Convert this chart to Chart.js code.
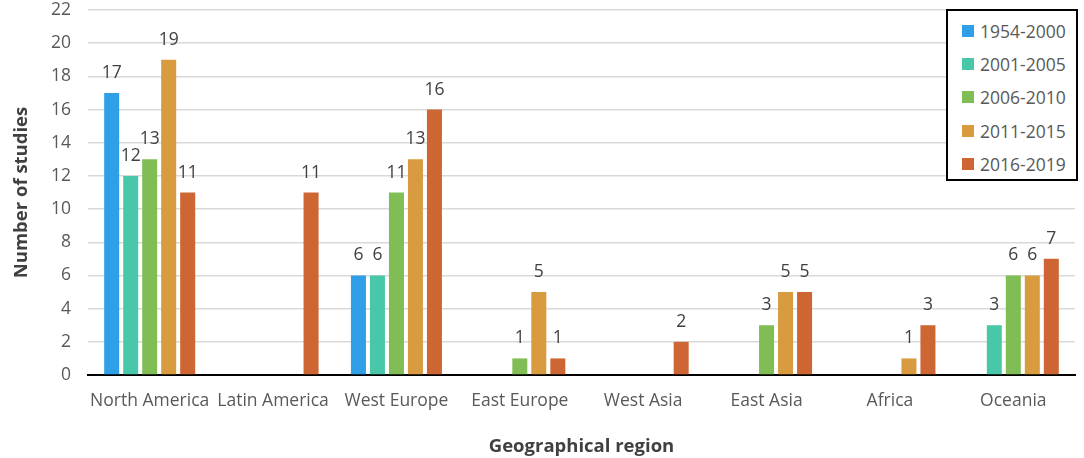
<!DOCTYPE html>
<html>
<head>
<meta charset="utf-8">
<script src="https://cdn.jsdelivr.net/npm/chart.js@4.4.1/dist/chart.umd.min.js"></script>
<style>
  html, body { margin: 0; padding: 0; background: #fff; }
  #wrap { position: relative; width: 1084px; height: 458px; }
  #legend {
    position: absolute; left: 946px; top: 9px; width: 132px; height: 172px;
    border: 2px solid #000; background: #fff; box-sizing: border-box;
    font-family: "Open Sans", sans-serif; font-size: 17.5px; color: #595959;
    padding-top: 3px;
  }
  #legend .item { display: flex; align-items: center; height: 33.4px; padding-left: 14px; }
  #legend .sw { width: 12px; height: 12px; margin-right: 6px; }
</style>
</head>
<body>
<div id="wrap">
  <canvas id="barChart" width="1084" height="458"></canvas>
  <div id="legend"></div>
</div>
<script>
const regions = ["North America", "Latin America", "West Europe", "East Europe", "West Asia", "East Asia", "Africa", "Oceania"];
const periods = ["1954-2000", "2001-2005", "2006-2010", "2011-2015", "2016-2019"];
const colors = ["#2F9FE8", "#48C8A8", "#80BE55", "#D99B40", "#CE6633"];

const s1954 = [17, null, 6, null, null, null, null, null];
const s2001 = [12, null, 6, null, null, null, null, 3];
const s2006 = [13, null, 11, 1, null, 3, null, 6];
const s2011 = [19, null, 13, 5, null, 5, 1, 6];
const s2016 = [11, 11, 16, 1, 2, 5, 3, 7];
const seriesValues = [s1954, s2001, s2006, s2011, s2016];

const yTicks = [0, 2, 4, 6, 8, 10, 12, 14, 16, 18, 20, 22];

const FONT = "'Open Sans', sans-serif";

// value labels above each bar
const valueLabels = {
  id: "valueLabels",
  afterDatasetsDraw(chart) {
    const ctx = chart.ctx;
    ctx.save();
    ctx.font = "17.5px " + FONT;
    ctx.fillStyle = "#404040";
    ctx.textAlign = "center";
    ctx.textBaseline = "alphabetic";
    chart.data.datasets.forEach((ds, i) => {
      const meta = chart.getDatasetMeta(i);
      meta.data.forEach((bar, j) => {
        const v = ds.data[j];
        if (v === null || v === undefined) return;
        ctx.fillText(String(v), bar.x, bar.y - 15);
      });
    });
    ctx.restore();
  },
};

const ctx = document.getElementById("barChart");
const myChart = new Chart(ctx, {
  type: "bar",
  data: {
    labels: regions,
    datasets: periods.map((p, i) => ({
      label: p,
      data: seriesValues[i],
      backgroundColor: colors[i],
      borderColor: colors[i],
      borderWidth: 0,
      categoryPercentage: 0.77,
      barPercentage: 0.79,
    })),
  },
  options: {
    responsive: false,
    animation: false,
    layout: { padding: { top: 10, right: 9, left: 11, bottom: 0 } },
    plugins: {
      legend: { display: false },
      tooltip: { enabled: false },
    },
    scales: {
      x: {
        grid: { display: false },
        border: { display: true, color: "#000", width: 2 },
        ticks: {
          color: "#595959",
          font: { family: FONT, size: 17.5 },
          padding: 8,
          maxRotation: 0,
          autoSkip: false,
        },
        title: {
          display: true,
          text: "Geographical region",
          color: "#404040",
          font: { family: FONT, size: 18.5, weight: "bold" },
          padding: { top: 10, bottom: 0 },
        },
        afterFit(scale) {
          scale.height = 83;
          scale.paddingLeft = 0;
          scale.paddingRight = 0;
        },
      },
      y: {
        min: 0,
        max: 22,
        afterBuildTicks(scale) { scale.ticks = yTicks.map((v) => ({ value: v })); },
        grid: {
          color: "#D9D9D9",
          lineWidth: 1.5,
          drawTicks: false,
        },
        border: { display: false },
        ticks: {
          color: "#595959",
          font: { family: FONT, size: 17.5 },
          padding: 17,
        },
        title: {
          display: true,
          text: "Number of studies",
          color: "#404040",
          font: { family: FONT, size: 18.5, weight: "bold" },
          padding: { top: 0, bottom: 4 },
        },
        afterFit(scale) {
          scale.width = 77;
          scale.paddingTop = 0;
          scale.paddingBottom = 0;
        },
      },
    },
  },
  plugins: [valueLabels],
});

// legend box built from the series names
const legendEl = document.getElementById("legend");
periods.forEach((p, i) => {
  const item = document.createElement("div");
  item.className = "item";
  const sw = document.createElement("span");
  sw.className = "sw";
  sw.style.background = colors[i];
  const txt = document.createElement("span");
  txt.textContent = p;
  item.appendChild(sw);
  item.appendChild(txt);
  legendEl.appendChild(item);
});
</script>
</body>
</html>
